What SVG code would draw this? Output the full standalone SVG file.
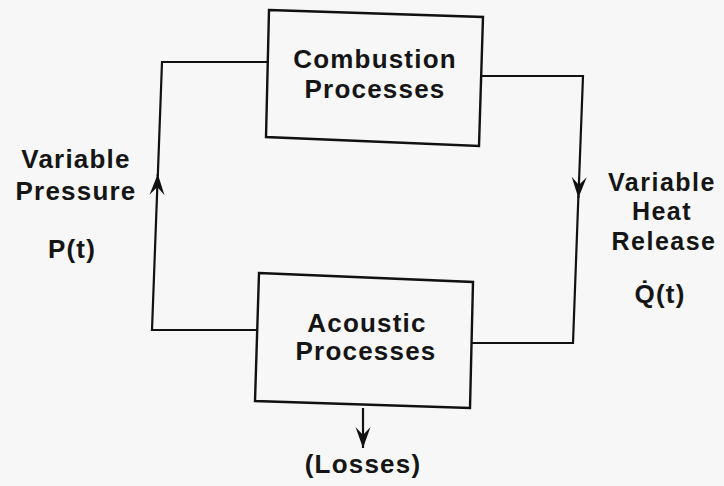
<svg xmlns="http://www.w3.org/2000/svg" width="724" height="486" viewBox="0 0 724 486">
<style>
.bx{fill:none;stroke:#111;stroke-width:2.4;stroke-linejoin:miter}
.ln{fill:none;stroke:#111;stroke-width:2.2}
.t{font-family:"Liberation Sans",Arial,Helvetica,sans-serif;font-weight:bold;font-size:26px;letter-spacing:1.2px;fill:#151515;text-anchor:middle}
.r{font-size:25px;letter-spacing:1.5px}
</style>
<defs>
<marker id="ah" markerUnits="userSpaceOnUse" markerWidth="24" markerHeight="20" viewBox="-22 -10 24 20" refX="0" refY="0" orient="auto">
<path d="M0,0 L-21,-7.5 L-13,0 L-21,7.5 Z" fill="#111"/>
</marker>
</defs>
<rect width="724" height="486" fill="#f7f7f7"/>
<g id="connectors">
<path class="ln" d="M257,330 L152,330 L157.8,174" marker-end="url(#ah)"/>
<path class="ln" d="M157.8,176 L162,62 L268,62"/>
<path class="ln" d="M481,76 L583,76 L578.4,198" marker-end="url(#ah)"/>
<path class="ln" d="M578.4,196 L573,343 L472,343"/>
<path class="ln" d="M363,408 L363,448" marker-end="url(#ah)"/>
</g>
<g id="combustion">
<path class="bx" d="M269,10 L483,17 L479,146 L266,137 Z"/>
<text class="t" x="375" y="68">Combustion</text>
<text class="t" x="375" y="98">Processes</text>
</g>
<g id="acoustic">
<path class="bx" d="M259,273 L473,282 L470,408 L255,401 Z"/>
<text class="t" x="367" y="332">Acoustic</text>
<text class="t" x="366" y="360">Processes</text>
</g>
<g id="pressure-label">
<text class="t" x="76" y="168">Variable</text>
<text class="t" x="76" y="200">Pressure</text>
<text class="t" x="72" y="258">P(t)</text>
</g>
<g id="heat-label">
<text class="t r" x="662" y="191">Variable</text>
<text class="t r" x="662" y="220">Heat</text>
<text class="t r" x="664" y="250">Release</text>
<text class="t" x="660" y="303">Q̇(t)</text>
</g>
<g id="losses">
<text class="t" x="363" y="473">(Losses)</text>
</g>
</svg>
